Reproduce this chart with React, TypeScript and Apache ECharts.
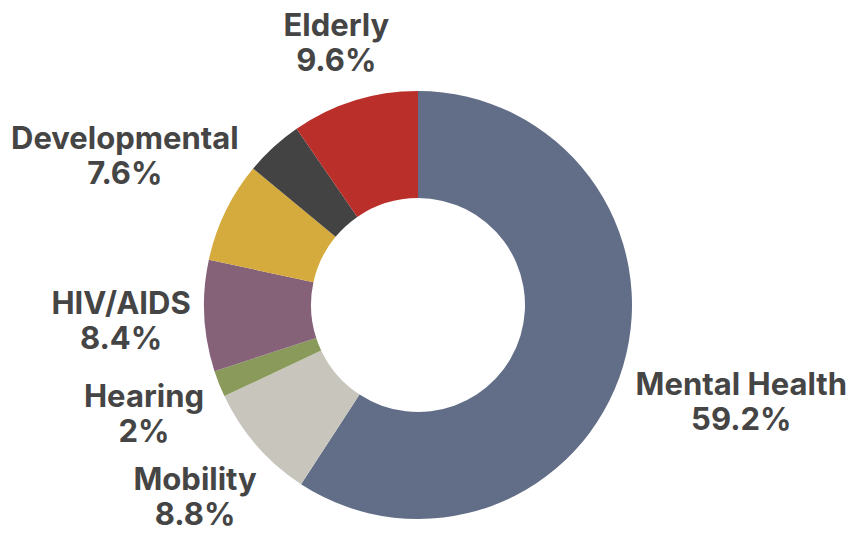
import React, { useEffect, useRef } from "react";
import * as echarts from "echarts";

const categories = ["Mental Health", "Mobility", "Hearing", "HIV/AIDS", "Developmental", "Other", "Elderly"];
const values = [59.2, 8.8, 2, 8.4, 7.6, 4.4, 9.6];
const colors = ["#626e88", "#c8c5bd", "#8a9a5b", "#856278", "#d6ab3e", "#434343", "#bb2f2a"];
const hiddenLabels = ["Other"];

const W = 865;
const H = 533;
const CX = 418;
const CY = 305;
const R_OUT = 214;
const R_IN = 107;
const GAP = 12;

export default function App() {
  const ref = useRef<HTMLDivElement>(null);
  useEffect(() => {
    document.body.style.margin = "0";
    if (!ref.current) return;
    const chart = echarts.init(ref.current, undefined, { renderer: "svg" });
    const total = values.reduce((a, b) => a + b, 0);
    const mids: number[] = [];
    let cum = 0;
    values.forEach((v) => {
      mids.push(((cum + v / 2) / total) * Math.PI * 2);
      cum += v;
    });
    chart.setOption({
      animation: false,
      backgroundColor: "#ffffff",
      series: [
        {
          type: "pie",
          center: [CX, CY],
          radius: [R_IN, R_OUT],
          startAngle: 90,
          clockwise: true,
          avoidLabelOverlap: false,
          itemStyle: { borderWidth: 0 },
          label: {
            show: true,
            position: "outside",
            formatter: (p: any) => `${p.name}\n${p.value}%`,
            fontFamily: "Inter",
            fontWeight: 700,
            fontSize: 31,
            lineHeight: 35,
            color: "#454545",
            align: "center",
          },
          labelLine: { show: false },
          labelLayout: (params: any) => {
            const i = params.dataIndex;
            const rect = params.labelRect;
            const th = mids[i];
            const dx = Math.sin(th);
            const dy = -Math.cos(th);
            const w = rect.width;
            const h = rect.height;
            const support = Math.abs(dx) * w / 2 + Math.abs(dy) * h / 2;
            const d = R_OUT + GAP + support;
            let x = CX + dx * d;
            let y = CY + dy * d;
            x = Math.max(11 + w / 2, Math.min(W - 11 - w / 2, x));
            y = Math.max(4 + h / 2, Math.min(H - 2 - h / 2, y));
            return { x, y, align: "center", verticalAlign: "middle" };
          },
          data: categories.map((name, i) => ({
            name,
            value: values[i],
            itemStyle: { color: colors[i] },
            label: hiddenLabels.includes(name) ? { show: false } : undefined,
          })),
        },
      ],
    });
    return () => chart.dispose();
  }, []);
  return <div ref={ref} style={{ width: W, height: H }} />;
}
